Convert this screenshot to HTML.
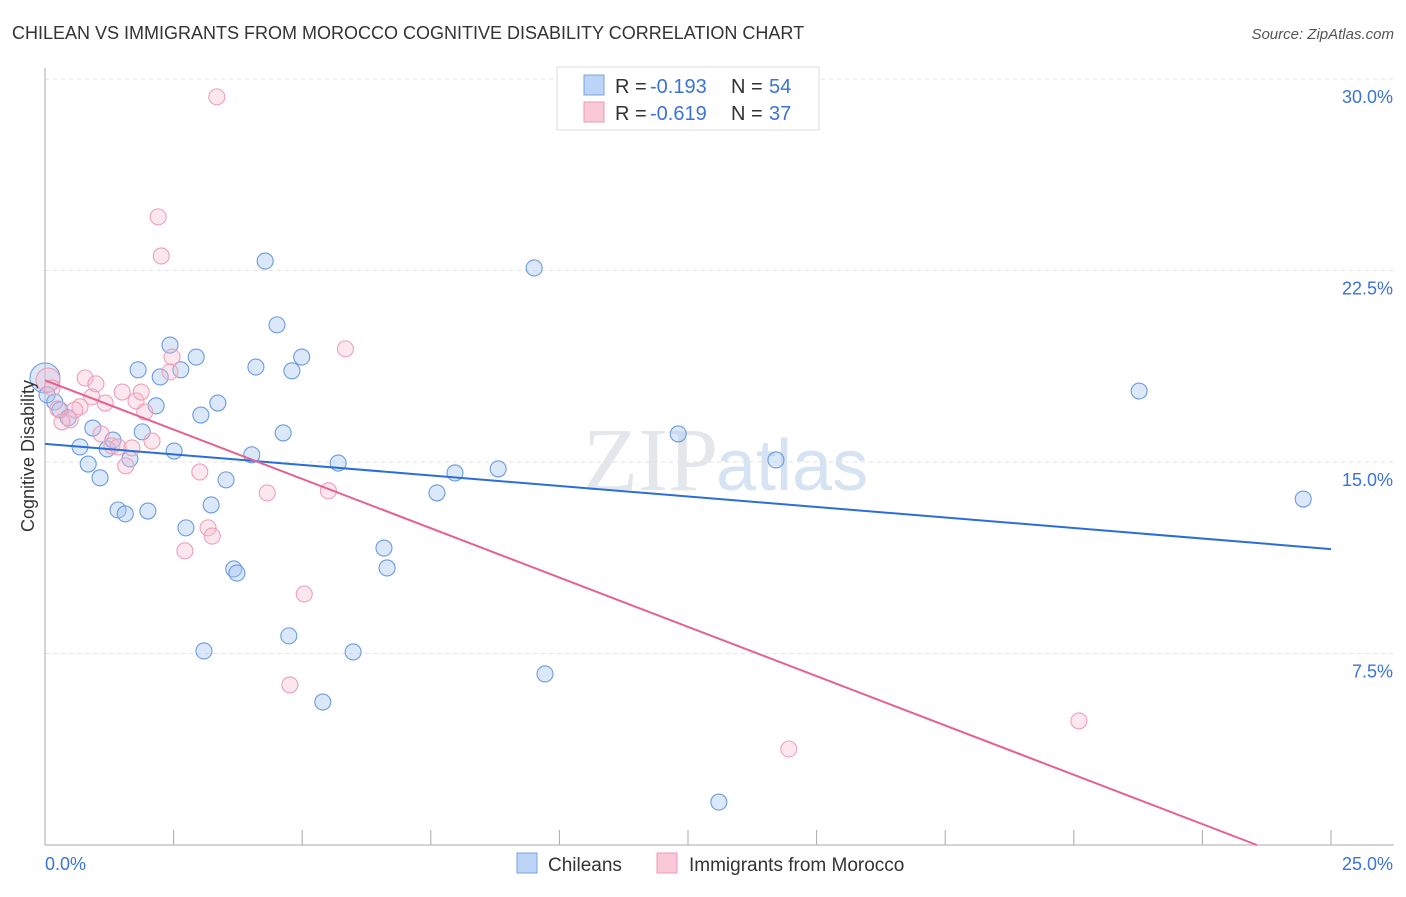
<!DOCTYPE html>
<html><head><meta charset="utf-8"><style>
body{margin:0;background:#fff;font-family:"Liberation Sans",sans-serif;}
</style></head><body>
<svg id="chart" width="1406" height="892" xmlns="http://www.w3.org/2000/svg">
<text x="12" y="39" font-size="18" fill="#333">CHILEAN VS IMMIGRANTS FROM MOROCCO COGNITIVE DISABILITY CORRELATION CHART</text>
<text x="1394" y="39" font-size="15" fill="#555" font-style="italic" text-anchor="end">Source: ZipAtlas.com</text>
<text x="718" y="490" font-size="90" fill="#e3e6ea" font-family="Liberation Serif" text-anchor="end">ZIP</text>
<text x="716" y="490" font-size="72" fill="#d5e3f3">atlas</text>
<g id="grid"></g><g id="axes"></g><g id="pts"></g><g id="lines"></g>
<text transform="translate(34,456) rotate(-90)" font-size="18" fill="#333" text-anchor="middle">Cognitive Disability</text>
<g>
<rect x="557" y="67" width="262" height="63" fill="#fff" stroke="#ddd"/>
<rect x="584" y="75" width="20" height="20" fill="#bcd4f5" stroke="#7aa5e0"/>
<text x="615" y="93" font-size="20" fill="#333">R =</text>
<text x="650" y="93" font-size="20" fill="#3b73d6">-0.193</text>
<text x="731" y="93" font-size="20" fill="#333">N =</text>
<text x="769" y="93" font-size="20" fill="#3b73d6">54</text>
<rect x="584" y="102" width="20" height="20" fill="#f9c9d7" stroke="#eb9ab2"/>
<text x="615" y="120" font-size="20" fill="#333">R =</text>
<text x="650" y="120" font-size="20" fill="#3b73d6">-0.619</text>
<text x="731" y="120" font-size="20" fill="#333">N =</text>
<text x="769" y="120" font-size="20" fill="#3b73d6">37</text>
</g>
<g>
<rect x="517" y="853" width="20" height="20" fill="#bcd4f5" stroke="#7aa5e0"/>
<text x="548" y="871" font-size="19" fill="#333">Chileans</text>
<rect x="657" y="853" width="20" height="20" fill="#f9c9d7" stroke="#eb9ab2"/>
<text x="689" y="871" font-size="19" fill="#333">Immigrants from Morocco</text>
</g>
</svg>
<script>
const blueX=[0.00,0.04,0.19,0.29,0.45,0.68,0.84,0.93,1.07,1.21,1.32,1.42,1.56,1.65,1.81,1.89,2.00,2.16,2.24,2.43,2.51,2.64,2.74,2.94,3.03,3.23,3.36,3.09,3.52,3.67,3.73,4.02,4.10,4.28,4.51,4.63,4.74,4.80,4.99,5.40,5.70,5.99,6.59,6.65,7.62,7.97,8.81,9.51,9.72,12.31,13.10,14.21,21.27,24.46];
const blueY=[18.29,17.63,17.35,17.04,16.73,15.59,14.92,16.33,14.38,15.51,15.86,13.12,12.97,15.12,18.61,16.18,13.08,17.20,18.33,19.58,15.43,18.61,12.42,19.11,16.84,13.32,17.31,7.60,14.30,10.81,10.65,15.28,18.72,22.87,20.37,16.14,8.19,18.57,19.11,5.60,14.96,7.56,11.63,10.85,13.79,14.57,14.73,22.60,6.70,16.10,1.68,15.08,17.78,13.55];
const pinkX=[0.06,0.14,0.25,0.49,0.68,0.78,0.91,0.99,1.09,1.17,1.30,1.42,1.50,1.57,1.69,1.77,1.87,1.94,2.08,2.20,2.26,2.47,2.43,2.72,3.01,3.17,3.25,3.34,4.32,4.76,5.04,5.51,5.84,14.46,20.10,0.58,0.33];
const pinkY=[18.21,17.90,17.08,16.65,17.16,18.29,17.55,18.06,16.10,17.31,15.63,15.59,17.74,14.85,15.55,17.39,17.74,16.96,15.82,24.60,23.07,19.11,18.53,11.52,14.61,12.42,12.10,29.30,13.79,6.27,9.83,13.87,19.43,3.76,4.86,17.04,16.57];
const blueTrend=[15.71,11.59];
const pinkTrend=[18.2,0];const pinkZeroX=23.56;
const yTicks=[7.5,15,22.5,30];
const yTickLabels=["7.5%","15.0%","22.5%","30.0%"];
const NS="http://www.w3.org/2000/svg";
const sx=v=>45+v*(1331-45)/25, sy=v=>845-v*(845-79)/30;
function mk(t,a,p){const e=document.createElementNS(NS,t);for(const k in a)e.setAttribute(k,a[k]);document.getElementById(p).appendChild(e);return e;}
yTicks.forEach((t,i)=>{
 const g=mk('line',{x1:45,x2:1394,y1:sy(t),y2:sy(t),stroke:'#e2e2e2','stroke-dasharray':'4,4'},'grid');
 
 
 const l=mk('text',{x:1393,y:sy(t)+24,'font-size':18,fill:'#3b73d6','text-anchor':'end'},'axes');
 l.textContent=yTickLabels[i];
 
 
});
const ax=mk('line',{x1:45,x2:45,y1:68,y2:845,stroke:'#aaa'},'axes');


const bx=mk('line',{x1:45,x2:1394,y1:845,y2:845,stroke:'#aaa'},'axes');


for(let i=1;i<=10;i++){const t=mk('line',{x1:sx(i*2.5),x2:sx(i*2.5),y1:830,y2:845,stroke:'#aaa'},'axes');
 
 }
const x0=mk('text',{x:45,y:870,'font-size':18,fill:'#3b73d6'},'axes');x0.textContent='0.0%';


const x1=mk('text',{x:1393,y:870,'font-size':18,fill:'#3b73d6','text-anchor':'end'},'axes');x1.textContent='25.0%';


blueX.forEach((x,i)=>{const c=mk('circle',{cx:sx(x),cy:sy(blueY[i]),r:i==0?15:8,fill:'rgba(165,198,242,0.4)',stroke:'#6b9ae0','stroke-width':1.1},'pts');
 
 });
pinkX.forEach((x,i)=>{const c=mk('circle',{cx:sx(x),cy:sy(pinkY[i]),r:i==0?12:8,fill:'rgba(247,185,205,0.35)',stroke:'#eda0b8','stroke-width':1.1},'pts');
 
 });
const bl=mk('line',{x1:sx(0),y1:sy(blueTrend[0]),x2:sx(25),y2:sy(blueTrend[1]),stroke:'#2b6fd6','stroke-width':2},'lines');


const pl=mk('line',{x1:sx(0),y1:sy(pinkTrend[0]),x2:sx(pinkZeroX),y2:sy(pinkTrend[1]),stroke:'#e5628f','stroke-width':2},'lines');


</script>
</body></html>
